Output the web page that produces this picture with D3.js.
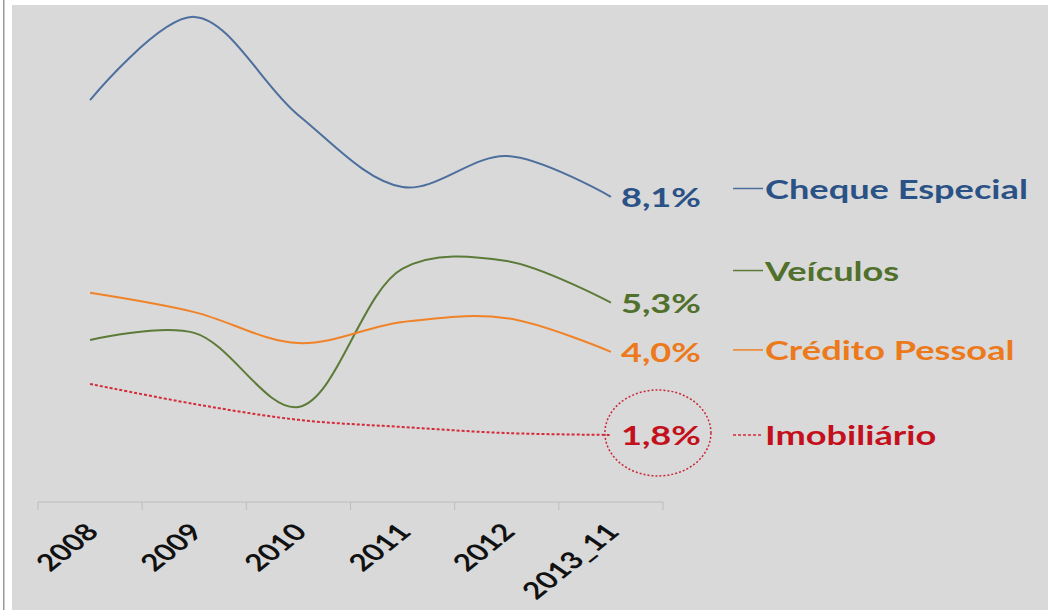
<!DOCTYPE html>
<html>
<head>
<meta charset="utf-8">
<script src="https://cdn.jsdelivr.net/npm/d3@7"></script>
<style>
  body { margin: 0; background: #fff; }
  svg { display: block; }
  text { font-family: Lato, "Open Sans", sans-serif; font-weight: bold; }
</style>
</head>
<body>
<div id="chart"></div>
<script>
// dados (taxa de inadimplência, %)
const categorias = ['2008', '2009', '2010', '2011', '2012', '2013_11'];
const chequeEspecial = [10.66, 12.86, 10.26, 8.36, 9.18, 8.1];
const veiculos = [4.31, 4.5, 2.54, 6.2, 6.4, 5.3];
const creditoPessoal = [5.56, 5.05, 4.23, 4.79, 4.89, 4.0];
const imobiliario = [3.15, 2.62, 2.2, 2.01, 1.85, 1.8];
const rotulos = ['8,1%', '5,3%', '4,0%', '1,8%'];
const nomes = ['Cheque Especial', 'Veículos', 'Crédito Pessoal', 'Imobiliário'];

const width = 1048, height = 610;
const esticar = 1.34; // o texto do original aparece alargado na horizontal

const series = [
    { nome: nomes[0], valores: chequeEspecial, rotulo: rotulos[0], linha: '#4d6f9e', texto: '#2a5286', dash: null, legendaY: 8.32 },
    { nome: nomes[1], valores: veiculos, rotulo: rotulos[1], linha: '#5c7a38', texto: '#50702c', dash: null, legendaY: 6.15 },
    { nome: nomes[2], valores: creditoPessoal, rotulo: rotulos[2], linha: '#f08228', texto: '#ec7a1c', dash: null, legendaY: 4.05 },
    { nome: nomes[3], valores: imobiliario, rotulo: rotulos[3], linha: '#d42a3a', texto: '#c3101c', dash: '3,2', legendaY: 1.8 }
];

const svg = d3.select('#chart')
    .append('svg')
    .attr('width', width)
    .attr('height', height);

// moldura
svg.append('rect').attr('x', 3).attr('y', 0).attr('width', 1.5).attr('height', height).attr('fill', '#9a9a9a');
svg.append('rect').attr('x', 12).attr('y', 5).attr('width', width - 12).attr('height', height - 5).attr('fill', '#d9d9d9');

const x = d3.scaleBand()
    .domain(categorias)
    .range([38, 663])
    .padding(0);

const y = d3.scaleLinear()
    .domain([0, 13])
    .range([503, 503 - 13 * 37.8]);

const axisY = 502;

// eixo
svg.append('line')
    .attr('x1', x.range()[0]).attr('x2', x.range()[1])
    .attr('y1', axisY).attr('y2', axisY)
    .attr('stroke', '#bcbcbc').attr('stroke-width', 1);

const limites = categorias.map(d => x(d)).concat([x(categorias[categorias.length - 1]) + x.bandwidth()]);
svg.selectAll('.tick-mark')
    .data(limites)
    .enter()
    .append('line')
    .attr('class', 'tick-mark')
    .attr('x1', d => d).attr('x2', d => d)
    .attr('y1', axisY).attr('y2', axisY + 8)
    .attr('stroke', '#bcbcbc').attr('stroke-width', 1);

svg.selectAll('.cat-label')
    .data(categorias)
    .enter()
    .append('text')
    .attr('class', 'cat-label')
    .attr('transform', d => `translate(${x(d) + x.bandwidth() / 2 + 10},${axisY + 31}) scale(${esticar},1) rotate(-47)`)
    .attr('text-anchor', 'end')
    .style('font-size', '23.5px')
    .style('fill', '#111')
    .text(d => d);

// linhas
const line = d3.line()
    .x((d, i) => x(categorias[i]) + x.bandwidth() / 2)
    .y(d => y(d))
    .curve(d3.curveCatmullRom.alpha(0.5));

series.forEach(s => {
    svg.append('path')
        .datum(s.valores)
        .attr('d', line)
        .attr('fill', 'none')
        .attr('stroke', s.linha)
        .attr('stroke-width', 2)
        .attr('stroke-dasharray', s.dash);
});

// rótulos de valor
const ultimo = categorias[categorias.length - 1];
series.forEach(s => {
    const v = s.valores[s.valores.length - 1];
    svg.append('text')
        .attr('transform', `translate(${x(ultimo) + x.bandwidth() / 2 + 10},${y(v) + 10}) scale(${esticar},1)`)
        .style('font-size', '27px')
        .style('fill', s.texto)
        .text(s.rotulo);
});

// destaque do imobiliário
const vImob = imobiliario[imobiliario.length - 1];
svg.append('ellipse')
    .attr('cx', x(ultimo) + x.bandwidth() / 2 + 47)
    .attr('cy', y(vImob) - 2)
    .attr('rx', 53)
    .attr('ry', 43)
    .attr('fill', 'none')
    .attr('stroke', '#c8283a')
    .attr('stroke-width', 1.5)
    .attr('stroke-dasharray', '2,2');

// legenda
series.forEach(s => {
    const ly = y(s.legendaY);
    svg.append('line')
        .attr('x1', 733).attr('x2', 763)
        .attr('y1', ly).attr('y2', ly)
        .attr('stroke', s.linha)
        .attr('stroke-width', 1.5)
        .attr('stroke-dasharray', s.dash);
    svg.append('text')
        .attr('transform', `translate(765,${ly + 10}) scale(${esticar},1)`)
        .style('font-size', '27px')
        .style('fill', s.texto)
        .text(s.nome);
});
</script>
</body>
</html>
